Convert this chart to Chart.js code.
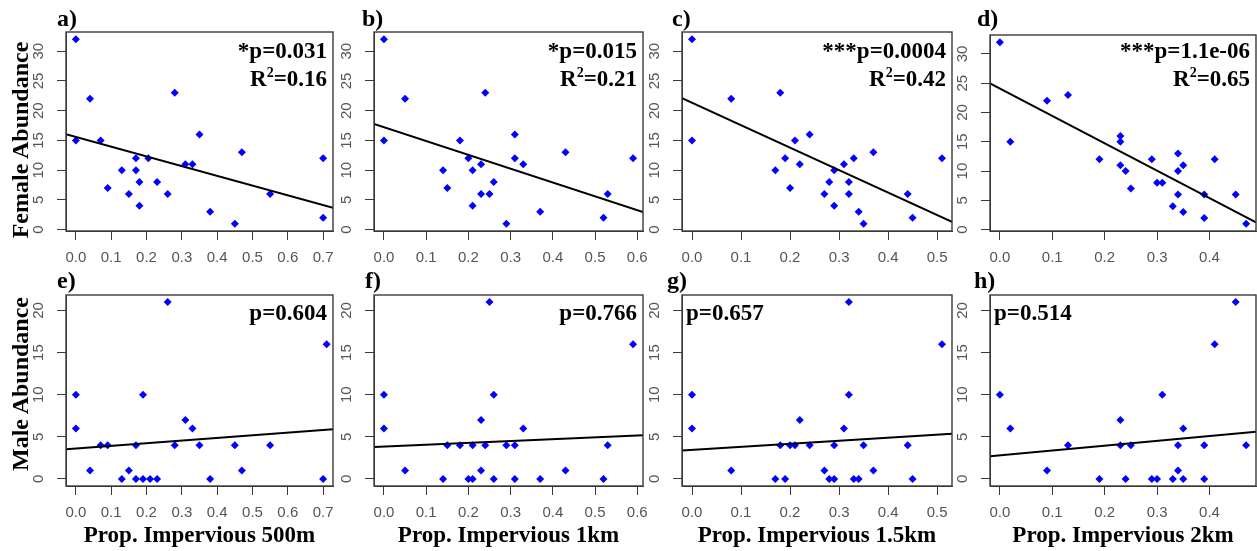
<!DOCTYPE html>
<html>
<head>
<meta charset="utf-8">
<script src="https://cdn.jsdelivr.net/npm/chart.js@4.4.1/dist/chart.umd.min.js"></script>
<style>
html,body{margin:0;padding:0;background:#fff;}
#fig{position:relative;width:1257px;height:551px;overflow:hidden;background:#fff;}
#fig canvas{position:absolute;}
.t{position:absolute;font-family:'Liberation Serif','Times New Roman',serif;font-weight:bold;color:#000;white-space:nowrap;line-height:24px;font-size:23px;}
.lab{font-size:24px;}
.ann sup{font-size:14px;line-height:0;vertical-align:0;position:relative;top:-9px;}
.ytitle{font-size:24px;transform:translate(-50%,-50%) rotate(-90deg);}
.xtitle{transform:translateX(-50%);}
</style>
</head>
<body>
<div id="fig"></div>
<script>
// ---------- data ----------
// Female abundance vs proportion impervious
const femX500 = [0,0.04,0,0.07,0.09,0.13,0.15,0.17,0.17,0.18,0.18,0.205,0.23,0.26,0.28,0.31,0.33,0.35,0.38,0.45,0.47,0.55,0.70,0.70];
const femY500 = [32,22,15,15,7,10,6,12,10,8,4,12,8,6,23,11,11,16,3,1,13,6,2,12];
const femX1k  = [0,0,0.05,0.14,0.15,0.18,0.20,0.21,0.21,0.23,0.23,0.24,0.25,0.26,0.29,0.31,0.31,0.33,0.37,0.43,0.52,0.53,0.59];
const femY1k  = [32,15,22,10,7,15,12,10,4,11,6,23,6,8,1,16,12,11,3,13,2,6,12];
const femX15k = [0,0,0.08,0.18,0.17,0.19,0.20,0.21,0.22,0.24,0.27,0.28,0.29,0.29,0.31,0.32,0.32,0.33,0.34,0.35,0.37,0.44,0.45,0.51];
const femY15k = [32,15,22,23,10,12,7,15,11,16,6,8,10,4,11,8,6,12,3,1,13,6,2,12];
const femX2k  = [0,0.02,0.09,0.13,0.19,0.23,0.23,0.23,0.24,0.25,0.29,0.30,0.31,0.33,0.34,0.34,0.34,0.35,0.35,0.39,0.39,0.41,0.45,0.47];
const femY2k  = [32,15,22,23,12,16,15,11,10,7,12,8,8,4,13,10,6,11,3,6,2,12,6,1];
// Male abundance vs proportion impervious
const malX500 = [0,0,0.04,0.07,0.09,0.13,0.15,0.17,0.17,0.19,0.19,0.21,0.23,0.26,0.28,0.31,0.33,0.35,0.38,0.45,0.47,0.55,0.70,0.71];
const malY500 = [10,6,1,4,4,0,1,4,0,10,0,0,0,21,4,7,6,4,0,4,1,4,0,16];
const malX1k  = [0,0,0.05,0.14,0.15,0.18,0.20,0.21,0.21,0.23,0.23,0.24,0.25,0.26,0.26,0.29,0.31,0.31,0.33,0.37,0.43,0.52,0.53,0.59];
const malY1k  = [10,6,1,0,4,4,0,0,4,7,1,4,21,10,0,4,4,0,6,0,1,0,4,16];
const malX15k = [0,0,0.08,0.17,0.18,0.19,0.20,0.21,0.22,0.24,0.27,0.28,0.29,0.29,0.31,0.32,0.32,0.33,0.34,0.35,0.37,0.44,0.45,0.51];
const malY15k = [10,6,1,0,4,0,4,4,7,4,1,0,0,4,6,21,10,0,0,4,1,4,0,16];
const malX2k  = [0,0.02,0.09,0.13,0.19,0.23,0.23,0.24,0.25,0.29,0.30,0.31,0.33,0.34,0.34,0.35,0.35,0.39,0.39,0.41,0.45,0.47];
const malY2k  = [10,6,1,4,0,7,4,0,4,0,0,10,0,4,1,6,0,4,0,16,21,4];

// fitted regression lines (intercept, slope), panels a..h
const fitIntercept = [15.6, 17.24, 21.33, 24.08, 3.61, 3.83, 3.45, 2.81];
const fitSlope     = [-16.4, -23.3, -37.8, -46.7, 3.15, 2.19, 3.61, 5.72];

// axis ranges
const xMin = [-0.028, -0.0236, -0.0204, -0.0188];
const xMax = [0.728, 0.6136, 0.5304, 0.4888];
const yFemale = [-0.24, 33.24];
const yMale = [-0.84, 21.84];
const xStep = 0.1;
const yStep = 5;

// texts
const panelLabels = ['a)','b)','c)','d)','e)','f)','g)','h)'];
const pTexts = ['*p=0.031','*p=0.015','***p=0.0004','***p=1.1e-06','p=0.604','p=0.766','p=0.657','p=0.514'];
const r2Texts = ['0.16','0.21','0.42','0.65'];
const xTitles = ['Prop. Impervious 500m','Prop. Impervious 1km','Prop. Impervious 1.5km','Prop. Impervious 2km'];
const yTitles = ['Female Abundance','Male Abundance'];

// ---------- layout ----------
const colBox = [[66,333],[374,643],[682,952],[990,1256]];
const rowTopF = [32,32,32,35];
const rowBotF = 231;
const rowTopM = 295, rowBotM = 486;
const labelLeft = [57,362,672,977,57,365,667,974];

const fig = document.getElementById('fig');
const boxPlugin = {
  id: 'boxPlugin',
  afterDatasetsDraw(chart) {
    const a = chart.chartArea, ctx = chart.ctx;
    ctx.save();
    ctx.strokeStyle = '#3a3a3a';
    ctx.lineWidth = 1.4;
    ctx.strokeRect(a.left, a.top, a.right - a.left, a.bottom - a.top);
    ctx.restore();
  }
};

function zeroPad(s) { s.paddingLeft = 0; s.paddingRight = 0; s.paddingTop = 0; s.paddingBottom = 0; }

function makePanel(idx, xs, ys, col, top, bot, ylim) {
  const [L, R] = colBox[col];
  const cv = document.createElement('canvas');
  const W = (R - L) + 44, H = (bot - top) + 50;
  cv.width = W; cv.height = H;
  cv.style.left = (L - 40) + 'px';
  cv.style.top = (top - 10) + 'px';
  cv.style.width = W + 'px'; cv.style.height = H + 'px';
  fig.appendChild(cv);
  const pts = xs.map((x, i) => ({x: x, y: ys[i]}));
  const x0 = xMin[col], x1 = xMax[col];
  const line = [{x: x0, y: fitIntercept[idx] + fitSlope[idx] * x0},
                {x: x1, y: fitIntercept[idx] + fitSlope[idx] * x1}];
  new Chart(cv, {
    type: 'scatter',
    data: {
      datasets: [
        {data: line, showLine: true, borderColor: '#000', borderWidth: 2, pointRadius: 0, order: 0},
        {data: pts, pointStyle: 'rectRot', pointRadius: 4, backgroundColor: '#0000ff', borderWidth: 0, order: 1}
      ]
    },
    options: {
      responsive: false, animation: false, devicePixelRatio: 1, events: [],
      layout: {padding: {left: 0, top: 10, right: 4, bottom: 0}, autoPadding: false},
      plugins: {legend: {display: false}, tooltip: {enabled: false}, title: {display: false}},
      scales: {
        x: {
          type: 'linear', min: x0, max: x1,
          afterFit: s => { s.height = 40; zeroPad(s); },
          grid: {display: true, drawOnChartArea: false, drawTicks: true, tickLength: 9, color: '#3a3a3a', lineWidth: 1},
          border: {display: true, color: '#3a3a3a', width: 1},
          ticks: {stepSize: xStep, includeBounds: false, autoSkip: false, maxRotation: 0, minRotation: 0, padding: 9,
                  color: '#555', font: {family: 'Liberation Sans', size: 15},
                  callback: v => Number(v).toFixed(1)}
        },
        y: {
          type: 'linear', min: ylim[0], max: ylim[1],
          afterFit: s => { s.width = 40; zeroPad(s); },
          grid: {display: true, drawOnChartArea: false, drawTicks: true, tickLength: 9, color: '#3a3a3a', lineWidth: 1},
          border: {display: true, color: '#3a3a3a', width: 1},
          ticks: {stepSize: yStep, includeBounds: false, autoSkip: false, minRotation: 90, maxRotation: 90, crossAlign: 'center', padding: 10,
                  color: '#555', font: {family: 'Liberation Sans', size: 15},
                  callback: v => String(Math.round(v))}
        }
      }
    },
    plugins: [boxPlugin]
  });
}

function addText(cls, html, style) {
  const d = document.createElement('div');
  d.className = 't ' + cls;
  d.innerHTML = html;
  Object.assign(d.style, style);
  fig.appendChild(d);
  return d;
}

const femSets = [[femX500, femY500], [femX1k, femY1k], [femX15k, femY15k], [femX2k, femY2k]];
const malSets = [[malX500, malY500], [malX1k, malY1k], [malX15k, malY15k], [malX2k, malY2k]];

for (let c = 0; c < 4; c++) {
  makePanel(c, femSets[c][0], femSets[c][1], c, rowTopF[c], rowBotF, yFemale);
  makePanel(c + 4, malSets[c][0], malSets[c][1], c, rowTopM, rowBotM, yMale);
  const [L, R] = colBox[c];
  // panel labels
  addText('lab', panelLabels[c], {left: labelLeft[c] + 'px', top: '6px'});
  addText('lab', panelLabels[c + 4], {left: labelLeft[c + 4] + 'px', top: '268px'});
  // female annotations (right aligned)
  addText('ann', pTexts[c], {right: (1257 - (R - 6)) + 'px', top: '39px', textAlign: 'right'});
  addText('ann', 'R<sup>2</sup>=' + r2Texts[c], {right: (1257 - (R - 6)) + 'px', top: '67px', textAlign: 'right'});
  // male annotations
  if (c < 2) addText('ann', pTexts[c + 4], {right: (1257 - (R - 6)) + 'px', top: '301px'});
  else addText('ann', pTexts[c + 4], {left: (L + 4) + 'px', top: '301px'});
  // x titles
  addText('xtitle', xTitles[c], {left: ((L + R) / 2) + 'px', top: '523px'});
}
addText('ytitle', yTitles[0], {left: '20px', top: '140px'});
addText('ytitle', yTitles[1], {left: '20px', top: '384px'});
</script>
</body>
</html>
